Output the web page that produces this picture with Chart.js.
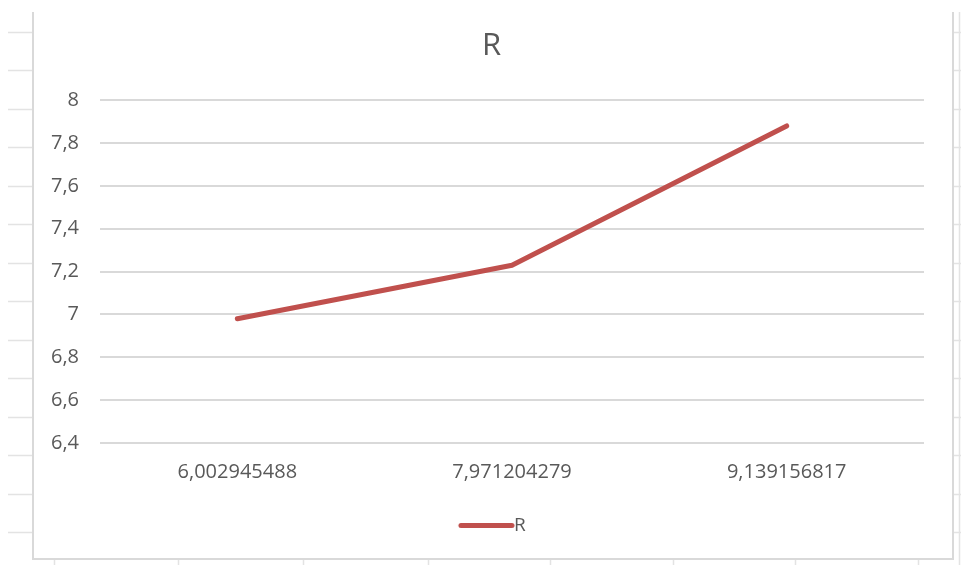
<!DOCTYPE html>
<html>
<head>
<meta charset="utf-8">
<script src="https://cdn.jsdelivr.net/npm/chart.js@4.4.1/dist/chart.umd.min.js"></script>
<style>
  html, body { margin: 0; padding: 0; background: #ffffff; }
  #wrap { position: relative; width: 961px; height: 565px; }
</style>
</head>
<body>
<div id="wrap"><canvas id="chart" width="961" height="565"></canvas></div>
<script>
// Category labels (x values) and the R series
const categories = ['6,002945488', '7,971204279', '9,139156817'];
const rValues = [6.98, 7.23, 7.88];
const seriesName = 'R';
const yMin = 6.4;
const yMax = 8;
const yStep = 0.2;

const lineColor = '#C0504D';
const textColor = '#595959';
const gridColor = '#D9D9D9';
const fontFamily = '"Open Sans", "Liberation Sans", sans-serif';

// Legend swatch: a short thick stroke in the series colour
const swatch = document.createElement('canvas');
swatch.width = 68;
swatch.height = 7;
(() => {
  const c = swatch.getContext('2d');
  c.strokeStyle = lineColor;
  c.lineWidth = 5;
  c.lineCap = 'round';
  c.beginPath(); c.moveTo(14, 3.5); c.lineTo(65, 3.5); c.stroke();
})();

// Worksheet cell lines around the chart object and its frame
const sheetBackdrop = {
  id: 'sheetBackdrop',
  beforeDraw(chart) {
    const ctx = chart.ctx;
    ctx.save();
    ctx.fillStyle = '#ffffff';
    ctx.fillRect(0, 0, chart.width, chart.height);
    ctx.strokeStyle = '#E3E3E3';
    ctx.lineWidth = 1.5;
    // row lines on the left and right
    for (let k = 0; k <= 13; k++) {
      const y = Math.round(32 + k * 38.46) + 0.5;
      ctx.beginPath(); ctx.moveTo(8, y); ctx.lineTo(33, y); ctx.stroke();
      ctx.beginPath(); ctx.moveTo(953, y); ctx.lineTo(961, y); ctx.stroke();
    }
    // column line on the right
    ctx.beginPath(); ctx.moveTo(959.5, 12); ctx.lineTo(959.5, 565); ctx.stroke();
    // column ticks below the frame
    [54, 178, 303, 428, 550, 673, 795, 918].forEach(x => {
      ctx.beginPath(); ctx.moveTo(x + 0.5, 560); ctx.lineTo(x + 0.5, 565); ctx.stroke();
    });
    // chart frame
    ctx.strokeStyle = '#D9D9D9';
    ctx.lineWidth = 2;
    ctx.beginPath();
    ctx.moveTo(33, 12); ctx.lineTo(33, 559); ctx.lineTo(953, 559); ctx.lineTo(953, 12);
    ctx.stroke();
    ctx.restore();
  }
};

new Chart(document.getElementById('chart'), {
  type: 'line',
  data: {
    labels: categories,
    datasets: [{
      label: seriesName,
      data: rValues,
      yAxisID: 'y',
      borderColor: lineColor,
      backgroundColor: lineColor,
      borderWidth: 5,
      borderCapStyle: 'round',
      borderJoinStyle: 'round',
      pointRadius: 0,
      pointHoverRadius: 0,
      tension: 0,
      fill: false
    }]
  },
  options: {
    responsive: false,
    animation: false,
    events: [],
    layout: { padding: { left: 42, right: 20, top: 14, bottom: 20 } },
    plugins: {
      title: {
        display: true,
        text: seriesName,
        color: textColor,
        font: { family: fontFamily, size: 31, weight: 'normal' },
        padding: { top: 14, bottom: 35 }
      },
      legend: {
        display: true,
        position: 'bottom',
        labels: {
          color: textColor,
          font: { family: fontFamily, size: 19 },
          usePointStyle: true,
          pointStyle: swatch,
          pointStyleWidth: 47,
          padding: 10
        }
      },
      tooltip: { enabled: false }
    },
    scales: {
      x: {
        offset: true,
        afterFit(scale) { scale.height += 5; },
        grid: { display: false, drawTicks: false },
        border: { display: false },
        ticks: {
          color: textColor,
          font: { family: fontFamily, size: 20 },
          padding: 17,
          maxRotation: 0
        }
      },
      y: {
        position: 'left',
        min: yMin,
        max: yMax,
        afterFit(scale) { scale.width = 58; },
        grid: { color: gridColor, lineWidth: 2, drawTicks: false },
        border: { display: false },
        ticks: {
          stepSize: yStep,
          color: textColor,
          font: { family: fontFamily, size: 20 },
          padding: 21,
          callback: (v) => String(Math.round(v * 10) / 10).replace('.', ',')
        }
      },
      // empty gutter on the right of the plot
      gutter: {
        type: 'linear',
        position: 'right',
        afterFit(scale) { scale.width = 17; },
        grid: { display: false, drawTicks: false },
        border: { display: false },
        ticks: { display: false }
      }
    }
  },
  plugins: [sheetBackdrop]
});
</script>
</body>
</html>
